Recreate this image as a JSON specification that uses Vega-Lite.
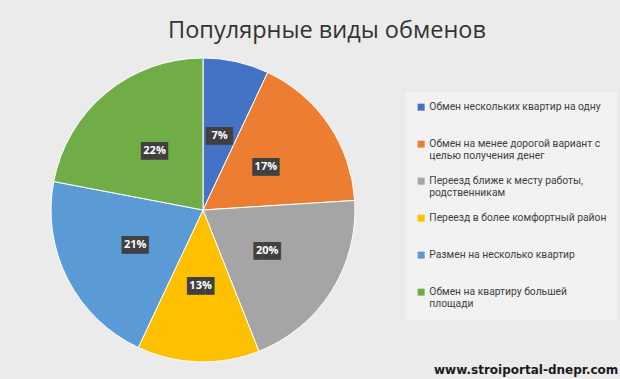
{
  "$schema": "https://vega.github.io/schema/vega-lite/v6.json",
  "width": 304,
  "height": 304,
  "padding": {"left": 49, "top": 18, "right": 8, "bottom": 16},
  "background": "#ebebeb",
  "title": {
    "text": "Популярные виды обменов",
    "font": "Open Sans",
    "fontSize": 23.5,
    "fontWeight": "normal",
    "color": "#333333",
    "anchor": "middle",
    "frame": "bounds",
    "dx": -14,
    "offset": 14
  },
  "data": {
    "values": [
      {"k": 1, "type": "Обмен нескольких квартир на одну", "value": 7, "label": "7%"},
      {"k": 2, "type": "Обмен на менее дорогой вариант с целью получения денег", "value": 17, "label": "17%"},
      {"k": 3, "type": "Переезд ближе к месту работы, родственникам", "value": 20, "label": "20%"},
      {"k": 4, "type": "Переезд в более комфортный район", "value": 13, "label": "13%"},
      {"k": 5, "type": "Размен на несколько квартир", "value": 21, "label": "21%"},
      {"k": 6, "type": "Обмен на квартиру большей площади", "value": 22, "label": "22%"}
    ]
  },
  "encoding": {
    "theta": {"field": "value", "type": "quantitative", "stack": true},
    "order": {"field": "k", "type": "ordinal"}
  },
  "layer": [
    {
      "mark": {"type": "arc", "outerRadius": 152, "stroke": "white", "strokeWidth": 1},
      "encoding": {
        "color": {
          "field": "type",
          "type": "nominal",
          "sort": {"field": "k"},
          "scale": {
            "domain": [
              "Обмен нескольких квартир на одну",
              "Обмен на менее дорогой вариант с целью получения денег",
              "Переезд ближе к месту работы, родственникам",
              "Переезд в более комфортный район",
              "Размен на несколько квартир",
              "Обмен на квартиру большей площади"
            ],
            "range": ["#4472C4", "#ED7D31", "#A5A5A5", "#FFC000", "#5B9BD5", "#70AD47"]
          },
          "legend": {
            "title": null,
            "orient": "none",
            "legendX": 355,
            "legendY": 34,
            "fillColor": "#f2f2f2",
            "padding": 10,
            "symbolType": "square",
            "symbolSize": 49,
            "symbolStrokeWidth": 0,
            "labelFont": "Roboto",
            "labelFontSize": 10.3,
            "labelColor": "#404040",
            "labelLimit": 220,
            "labelBaseline": "middle",
            "labelOffset": 3,
            "rowPadding": 14,
            "labelExpr": "datum.label == 'Обмен на менее дорогой вариант с целью получения денег' ? ['Обмен на менее дорогой вариант с', 'целью получения денег'] : datum.label == 'Переезд ближе к месту работы, родственникам' ? ['Переезд ближе к месту работы,', 'родственникам'] : datum.label == 'Обмен на квартиру большей площади' ? ['Обмен на квартиру большей', 'площади'] : [datum.label, ' ']"
          }
        }
      }
    },
    {
      "mark": {"type": "text", "radius": 76, "text": "███", "font": "DejaVu Sans Mono", "fontSize": 15, "color": "#404040", "baseline": "middle"}
    },
    {
      "mark": {"type": "text", "radius": 76, "font": "Open Sans", "fontSize": 11, "fontWeight": "bold", "color": "white", "baseline": "middle"},
      "encoding": {
        "text": {"field": "label", "type": "nominal"},
        "opacity": {
          "datum": 1,
          "type": "quantitative",
          "scale": {"domain": [0, 1], "range": [1, 1]},
          "legend": {
            "orient": "none",
            "legendX": 383,
            "legendY": 307,
            "padding": 0,
            "title": "www.stroiportal-dnepr.com",
            "titleOrient": "left",
            "titleLimit": 400,
            "titlePadding": 0,
            "titleFont": "DejaVu Sans",
            "titleFontSize": 12,
            "titleFontWeight": "bold",
            "titleColor": "#1a1a1a",
            "labelExpr": "''",
            "symbolOpacity": 0,
            "symbolSize": 0,
            "values": [1]
          }
        }
      }
    }
  ],
  "config": {"view": {"stroke": null}}
}
